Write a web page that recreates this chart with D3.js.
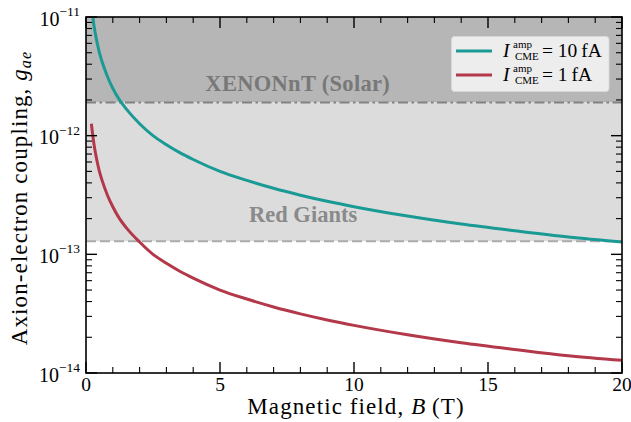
<!DOCTYPE html>
<html><head><meta charset="utf-8">
<script src="https://cdn.jsdelivr.net/npm/d3@7"></script>
<style>body{margin:0;background:#fff}svg{display:block}</style>
</head><body>
<svg id="chart" width="631" height="422"></svg>
<script>
// ---- data ----
const fieldB = [0.2, 0.3, 0.4, 0.5, 0.6, 0.8, 1.0, 1.25, 1.5, 2, 2.5, 3, 3.5, 4, 5, 6, 7, 8, 9, 10, 12, 14, 16, 18, 20];
const gTeal10fA = [1.25e-11, 8.4e-12, 6.3e-12, 5.0e-12, 4.2e-12, 3.15e-12, 2.5e-12, 2.0e-12, 1.68e-12, 1.26e-12, 1.0e-12, 8.4e-13, 7.2e-13, 6.3e-13, 5.0e-13, 4.2e-13, 3.6e-13, 3.15e-13, 2.8e-13, 2.52e-13, 2.1e-13, 1.8e-13, 1.58e-13, 1.4e-13, 1.27e-13];
const gRed1fA = [1.26e-12, 8.4e-13, 6.3e-13, 5.0e-13, 4.2e-13, 3.15e-13, 2.52e-13, 2.0e-13, 1.68e-13, 1.27e-13, 1.0e-13, 8.4e-14, 7.2e-14, 6.3e-14, 5.0e-14, 4.2e-14, 3.6e-14, 3.15e-14, 2.8e-14, 2.52e-14, 2.1e-14, 1.8e-14, 1.58e-14, 1.4e-14, 1.28e-14];
const xTickValues = [0, 5, 10, 15, 20];
const yTickValues = [1e-14, 1e-13, 1e-12, 1e-11];
const yTickExponents = ["−14", "−13", "−12", "−11"];
const xenonLimit = 1.9e-12;
const redGiantLimit = 1.29e-13;
const legendValues = ["10 fA", "1 fA"];
const regionLabels = ["XENONnT (Solar)", "Red Giants"];

// ---- layout ----
const W = 631, H = 422;
const m = {left: 86, right: 9, top: 17, bottom: 49};
const svg = d3.select("#chart");
const x = d3.scaleLinear().domain([0, 20]).range([m.left, W - m.right]);
const y = d3.scaleLog().domain([1e-14, 1e-11]).range([H - m.bottom, m.top]);
const X0 = x.range()[0], X1 = x.range()[1], Y0 = y.range()[0], Y1 = y.range()[1];
const serif = "'Liberation Serif', 'Times New Roman', serif";

svg.append("defs").append("clipPath").attr("id", "plotclip")
  .append("rect").attr("x", X0).attr("y", Y1).attr("width", X1 - X0).attr("height", Y0 - Y1);

const plot = svg.append("g").attr("clip-path", "url(#plotclip)");

// excluded regions
plot.append("rect").attr("x", X0).attr("width", X1 - X0)
  .attr("y", y(1e-11)).attr("height", y(xenonLimit) - y(1e-11)).attr("fill", "#b6b6b6");
plot.append("rect").attr("x", X0).attr("width", X1 - X0)
  .attr("y", y(xenonLimit)).attr("height", y(redGiantLimit) - y(xenonLimit)).attr("fill", "#dcdcdc");

plot.append("line").attr("x1", X0).attr("x2", X1).attr("y1", y(xenonLimit)).attr("y2", y(xenonLimit))
  .attr("stroke", "#828282").attr("stroke-width", 2).attr("stroke-dasharray", "10,3.5,2.5,3.5");
plot.append("line").attr("x1", X0).attr("x2", X1).attr("y1", y(redGiantLimit)).attr("y2", y(redGiantLimit))
  .attr("stroke", "#aaaaaa").attr("stroke-width", 2).attr("stroke-dasharray", "10,4");

plot.append("text").attr("x", x(7.9)).attr("y", y(xenonLimit) - 12)
  .attr("text-anchor", "middle").attr("font-family", serif).attr("font-weight", "bold")
  .attr("font-size", 22.5).attr("letter-spacing", 0.3).attr("fill", "#787878").text(regionLabels[0]);
plot.append("text").attr("x", x(8.1)).attr("y", y(redGiantLimit) - 19)
  .attr("text-anchor", "middle").attr("font-family", serif).attr("font-weight", "bold")
  .attr("font-size", 22.5).attr("fill", "#8a8a8a").text(regionLabels[1]);

// curves
const line = d3.line().x((d, i) => x(fieldB[i])).y(d => y(d)).curve(d3.curveMonotoneX);
const series = [{vals: gTeal10fA, color: "#1a9a95"}, {vals: gRed1fA, color: "#b3384a"}];
series.forEach(s => {
  plot.append("path").attr("d", line(s.vals)).attr("fill", "none")
    .attr("stroke", s.color).attr("stroke-width", 3).attr("stroke-linecap", "butt");
});

// frame
svg.append("rect").attr("x", X0).attr("y", Y1).attr("width", X1 - X0).attr("height", Y0 - Y1)
  .attr("fill", "none").attr("stroke", "#000").attr("stroke-width", 1.6);

// ticks (inward, all four sides)
const tk = svg.append("g").attr("stroke", "#000");
const xMinor = d3.range(0, 21, 1).filter(v => v % 5 !== 0);
xTickValues.forEach(v => {
  tk.append("line").attr("x1", x(v)).attr("x2", x(v)).attr("y1", Y0).attr("y2", Y0 - 11).attr("stroke-width", 1.4);
  tk.append("line").attr("x1", x(v)).attr("x2", x(v)).attr("y1", Y1).attr("y2", Y1 + 11).attr("stroke-width", 1.4);
});
xMinor.forEach(v => {
  tk.append("line").attr("x1", x(v)).attr("x2", x(v)).attr("y1", Y0).attr("y2", Y0 - 6).attr("stroke-width", 1.1);
  tk.append("line").attr("x1", x(v)).attr("x2", x(v)).attr("y1", Y1).attr("y2", Y1 + 6).attr("stroke-width", 1.1);
});
const yMinor = [];
[1e-14, 1e-13, 1e-12].forEach(d => { for (let k = 2; k <= 9; k++) yMinor.push(d * k); });
yTickValues.forEach(v => {
  tk.append("line").attr("x1", X0).attr("x2", X0 + 11).attr("y1", y(v)).attr("y2", y(v)).attr("stroke-width", 1.4);
  tk.append("line").attr("x1", X1).attr("x2", X1 - 11).attr("y1", y(v)).attr("y2", y(v)).attr("stroke-width", 1.4);
});
yMinor.forEach(v => {
  tk.append("line").attr("x1", X0).attr("x2", X0 + 6).attr("y1", y(v)).attr("y2", y(v)).attr("stroke-width", 1.1);
  tk.append("line").attr("x1", X1).attr("x2", X1 - 6).attr("y1", y(v)).attr("y2", y(v)).attr("stroke-width", 1.1);
});

// tick labels
xTickValues.forEach(v => {
  svg.append("text").attr("x", x(v)).attr("y", Y0 + 18).attr("text-anchor", "middle")
    .attr("font-family", serif).attr("font-size", 19.5).attr("fill", "#000").text(v);
});
yTickValues.forEach((v, i) => {
  const t = svg.append("text").attr("x", X0 - 6).attr("y", y(v) + 8.5).attr("text-anchor", "end")
    .attr("font-family", serif).attr("font-size", 20).attr("fill", "#000");
  t.append("tspan").text("10");
  t.append("tspan").attr("dy", -9.5).attr("font-size", 13.5).text(yTickExponents[i]);
});

// axis titles
const xt = svg.append("text").attr("x", (X0 + X1) / 2 + 2).attr("y", 413.5).attr("text-anchor", "middle")
  .attr("font-family", serif).attr("font-size", 23).attr("letter-spacing", 1.1).attr("fill", "#000");
xt.append("tspan").text("Magnetic field, ");
xt.append("tspan").attr("font-style", "italic").text("B");
xt.append("tspan").text("\u2009(T)");

const yt = svg.append("text").attr("transform", `translate(27,${(Y0 + Y1) / 2 + 3}) rotate(-90)`)
  .attr("text-anchor", "middle").attr("font-family", serif).attr("font-size", 23)
  .attr("letter-spacing", 1.1).attr("fill", "#000");
yt.append("tspan").text("Axion-electron coupling, ");
yt.append("tspan").attr("font-style", "italic").text("g");
yt.append("tspan").attr("font-style", "italic").attr("font-size", 16).attr("dy", 4).text("ae");

// legend
const lg = svg.append("g");
lg.append("rect").attr("x", 451.5).attr("y", 36.5).attr("width", 157.5).attr("height", 55).attr("rx", 3)
  .attr("fill", "#f0f0f0").attr("fill-opacity", 0.95).attr("stroke", "#d8d8d8").attr("stroke-width", 1);
series.forEach((s, i) => {
  const cy = 51 + i * 24;
  lg.append("line").attr("x1", 456).attr("x2", 492).attr("y1", cy).attr("y2", cy)
    .attr("stroke", s.color).attr("stroke-width", 3);
  lg.append("text").attr("x", 503).attr("y", cy + 5.7).attr("font-family", serif).attr("font-style", "italic")
    .attr("font-size", 19.5).text("I");
  lg.append("text").attr("x", 513).attr("y", cy - 3.5).attr("font-family", serif)
    .attr("font-size", 11).text("amp");
  lg.append("text").attr("x", 515).attr("y", cy + 9).attr("font-family", serif)
    .attr("font-size", 11).text("CME");
  lg.append("text").attr("x", 542).attr("y", cy + 5.7).attr("font-family", serif)
    .attr("font-size", 19.5).text("= " + legendValues[i].replace(" ", "\u2009"));
});
</script>
</body></html>
